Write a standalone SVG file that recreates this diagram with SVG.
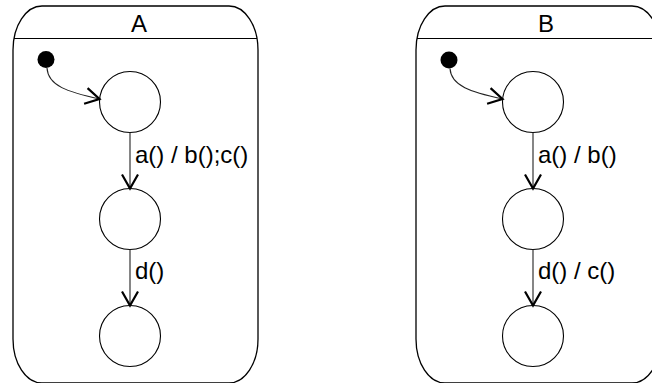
<svg xmlns="http://www.w3.org/2000/svg" width="652" height="383" viewBox="0 0 652 383">
<style>
.box{fill:none;stroke:#000;stroke-width:1.3}
.hdr{stroke:#000;stroke-width:1.2}
.st{fill:#fff;stroke:#000;stroke-width:1.1}
.init{fill:#000}
.tr{fill:none;stroke:#222;stroke-width:1.1}
.lbl{font-family:"Liberation Sans",Arial,sans-serif;font-size:24px;fill:#000}
.title{font-family:"Liberation Sans",Arial,sans-serif;font-size:24px;fill:#000;text-anchor:middle}
</style>
<defs>
<marker id="v" markerUnits="userSpaceOnUse" markerWidth="30" markerHeight="30" refX="0" refY="0" orient="auto" overflow="visible" viewBox="-20 -15 30 30">
<path d="M-14,-8 L0,0 L-14,8" fill="none" stroke="#000" stroke-width="2.2"/>
</marker>
</defs>
<rect width="652" height="383" fill="#fff"/>
<g id="stateA">
<path class="box" d="M42,6 H229 A29,44 0 0 1 258,50 V339 A29,44 0 0 1 229,383 H42 A29,44 0 0 1 13,339 V50 A29,44 0 0 1 42,6 Z"/>
<line class="hdr" x1="14" y1="38.5" x2="257" y2="38.5"/>
<text class="title" x="139" y="31.5">A</text>
</g>
<g id="A_init"><circle class="init" cx="46" cy="59.5" r="8.5"/></g>
<g id="A_s1"><circle class="st" cx="130" cy="102" r="30.5"/></g>
<g id="A_s2"><circle class="st" cx="130" cy="219" r="30.5"/></g>
<g id="A_s3"><circle class="st" cx="130" cy="336" r="30.5"/></g>
<g id="stateB">
<path class="box" d="M445,6 H632 A29,44 0 0 1 661,50 V339 A29,44 0 0 1 632,383 H445 A29,44 0 0 1 416,339 V50 A29,44 0 0 1 445,6 Z"/>
<line class="hdr" x1="417" y1="38.5" x2="660" y2="38.5"/>
<text class="title" x="546" y="31.5">B</text>
</g>
<g id="B_init"><circle class="init" cx="449" cy="60" r="8.5"/></g>
<g id="B_s1"><circle class="st" cx="533" cy="102" r="30.5"/></g>
<g id="B_s2"><circle class="st" cx="533" cy="219" r="30.5"/></g>
<g id="B_s3"><circle class="st" cx="533" cy="336" r="30.5"/></g>
<g id="connectors">
<path class="tr" d="M47,68 C48,86 68,92 99.5,99" marker-end="url(#v)"/>
<line class="tr" x1="130" y1="132.5" x2="130" y2="188.5" marker-end="url(#v)"/>
<line class="tr" x1="130" y1="249.5" x2="130" y2="305.5" marker-end="url(#v)"/>
<path class="tr" d="M450,68.5 C451,86 471,92 502.5,99" marker-end="url(#v)"/>
<line class="tr" x1="533" y1="132.5" x2="533" y2="188.5" marker-end="url(#v)"/>
<line class="tr" x1="533" y1="249.5" x2="533" y2="305.5" marker-end="url(#v)"/>
<text class="lbl" x="135" y="163">a() / b();c()</text>
<text class="lbl" x="135" y="279">d()</text>
<text class="lbl" x="538" y="163">a() / b()</text>
<text class="lbl" x="538" y="279">d() / c()</text>
</g>
</svg>
